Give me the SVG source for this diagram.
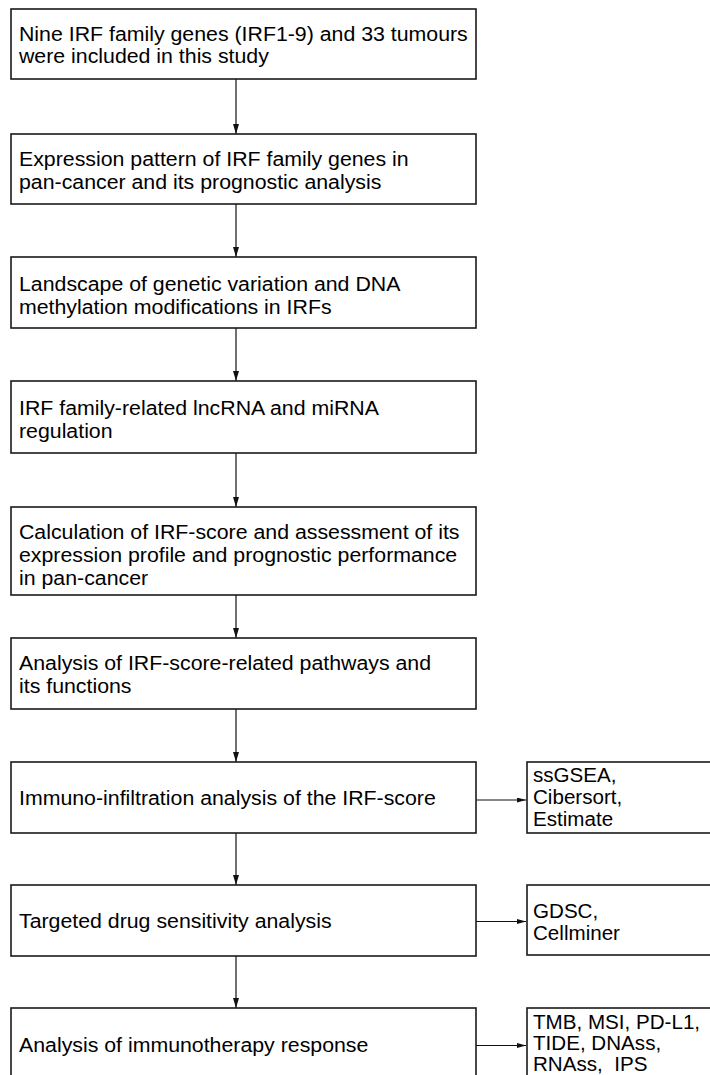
<svg xmlns="http://www.w3.org/2000/svg" width="710" height="1075" viewBox="0 0 710 1075">
<style>
.box{fill:#fff;stroke:#1a1a1a;stroke-width:1.6}
.t{font-family:"Liberation Sans",Arial,sans-serif;font-size:20px;fill:#000;white-space:pre}
.v{stroke:#111;stroke-width:1.2;fill:none}
.h{stroke:#111;stroke-width:1;fill:none}
</style>
<defs>
<marker id="av" markerWidth="10" markerHeight="6" refX="10" refY="3" orient="auto" markerUnits="userSpaceOnUse" viewBox="0 0 10 6">
<path d="M0,0 L10,3 L0,6 Z" fill="#111"/>
</marker>
<marker id="ah" markerWidth="9" markerHeight="5" refX="9" refY="2.5" orient="auto" markerUnits="userSpaceOnUse" viewBox="0 0 9 5">
<path d="M0,0 L9,2.5 L0,5 Z" fill="#111"/>
</marker>
</defs>
<rect width="710" height="1075" fill="#fff"/>
<g id="connectors">
<path class="v" d="M236,79 V134" marker-end="url(#av)"/>
<path class="v" d="M236,204 V257" marker-end="url(#av)"/>
<path class="v" d="M236,328 V381" marker-end="url(#av)"/>
<path class="v" d="M236,453 V507" marker-end="url(#av)"/>
<path class="v" d="M236,595 V638" marker-end="url(#av)"/>
<path class="v" d="M236,709 V762" marker-end="url(#av)"/>
<path class="v" d="M236,833 V885" marker-end="url(#av)"/>
<path class="v" d="M236,956 V1008" marker-end="url(#av)"/>
<path class="h" d="M476,800 H526" marker-end="url(#ah)"/>
<path class="h" d="M476,921.5 H526" marker-end="url(#ah)"/>
<path class="h" d="M476,1045.5 H526" marker-end="url(#ah)"/>
</g>
<g id="n1"><rect class="box" x="11" y="9" width="465" height="70"/>
<g transform="matrix(1.066 0 0 1 -1.254 0)">
<text class="t" x="19" y="41">Nine IRF family genes (IRF1-9) and 33 tumours</text>
<text class="t" x="19" y="63">were included in this study</text></g></g>
<g id="n2"><rect class="box" x="11" y="134" width="465" height="70"/>
<g transform="matrix(1.066 0 0 1 -1.254 0)">
<text class="t" x="19" y="166">Expression pattern of IRF family genes in</text>
<text class="t" x="19" y="189">pan-cancer and its prognostic analysis</text></g></g>
<g id="n3"><rect class="box" x="11" y="257" width="465" height="71"/>
<g transform="matrix(1.066 0 0 1 -1.254 0)">
<text class="t" x="19" y="291">Landscape of genetic variation and DNA</text>
<text class="t" x="19" y="314">methylation modifications in IRFs</text></g></g>
<g id="n4"><rect class="box" x="11" y="381" width="465" height="72"/>
<g transform="matrix(1.066 0 0 1 -1.254 0)">
<text class="t" x="19" y="415">IRF family-related lncRNA and miRNA</text>
<text class="t" x="19" y="438">regulation</text></g></g>
<g id="n5"><rect class="box" x="11" y="507" width="465" height="88"/>
<g transform="matrix(1.066 0 0 1 -1.254 0)">
<text class="t" x="19" y="539">Calculation of IRF-score and assessment of its</text>
<text class="t" x="19" y="562">expression profile and prognostic performance</text>
<text class="t" x="19" y="585">in pan-cancer</text></g></g>
<g id="n6"><rect class="box" x="11" y="638" width="465" height="71"/>
<g transform="matrix(1.066 0 0 1 -1.254 0)">
<text class="t" x="19" y="670">Analysis of IRF-score-related pathways and</text>
<text class="t" x="19" y="693">its functions</text></g></g>
<g id="n7"><rect class="box" x="11" y="762" width="465" height="71"/>
<g transform="matrix(1.066 0 0 1 -1.254 0)">
<text class="t" x="19" y="805">Immuno-infiltration analysis of the IRF-score</text></g></g>
<g id="n8"><rect class="box" x="11" y="885" width="465" height="71"/>
<g transform="matrix(1.066 0 0 1 -1.254 0)">
<text class="t" x="19" y="928">Targeted drug sensitivity analysis</text></g></g>
<g id="n9"><rect class="box" x="11" y="1008" width="465" height="80"/>
<g transform="matrix(1.066 0 0 1 -1.254 0)">
<text class="t" x="19" y="1052">Analysis of immunotherapy response</text></g></g>
<g id="s1"><rect class="box" x="527" y="762" width="200" height="71"/>
<g transform="matrix(1.03 0 0 1 -15.99 0)">
<text class="t" x="533" y="782">ssGSEA,</text>
<text class="t" x="533" y="804">Cibersort,</text>
<text class="t" x="533" y="826">Estimate</text></g></g>
<g id="s2"><rect class="box" x="527" y="885" width="200" height="70"/>
<g transform="matrix(1.03 0 0 1 -15.99 0)">
<text class="t" x="533" y="918">GDSC,</text>
<text class="t" x="533" y="940">Cellminer</text></g></g>
<g id="s3"><rect class="box" x="527" y="1008" width="200" height="80"/>
<g transform="matrix(1.03 0 0 1 -15.99 0)">
<text class="t" x="533" y="1029">TMB, MSI, PD-L1,</text>
<text class="t" x="533" y="1050">TIDE, DNAss,</text>
<text class="t" x="533" y="1071">RNAss,  IPS</text></g></g>
</svg>
